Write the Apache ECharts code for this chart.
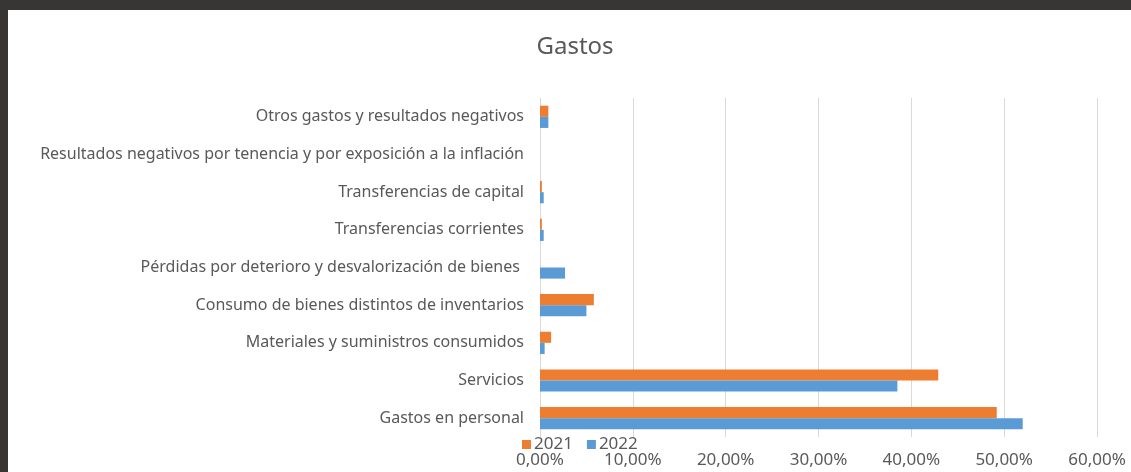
<!DOCTYPE html>
<html>
<head>
<meta charset="utf-8">
<script src="https://cdn.jsdelivr.net/npm/echarts@6/dist/echarts.min.js"></script>
<style>
  html, body { margin: 0; padding: 0; background: #383634; }
  #chart { position: absolute; left: 8px; top: 10px; width: 1123px; height: 462px; background: #fff; }
</style>
</head>
<body>
<div id="chart"></div>
<script>
// categories, bottom to top like the excel chart
const categories = [
  'Gastos en personal',
  'Servicios',
  'Materiales y suministros consumidos',
  'Consumo de bienes distintos de inventarios',
  'Pérdidas por deterioro y desvalorización de bienes ',
  'Transferencias corrientes',
  'Transferencias de capital',
  'Resultados negativos por tenencia y por exposición a la inflación',
  'Otros gastos y resultados negativos'
]
// values in %
const values2021 = [49.2, 42.9, 1.2, 5.8, 0, 0.2, 0.2, 0, 0.9]
const values2022 = [52.0, 38.5, 0.5, 5.0, 2.7, 0.4, 0.4, 0, 0.9]
const seriesNames = ['2021', '2022']

const textColor = '#595959'
const fontFamily = 'Noto Sans'

function pct(v) {
  return v.toFixed(2).replace('.', ',') + '%'
}

const chart = echarts.init(document.getElementById('chart'))
chart.setOption({
  animation: false,
  textStyle: { fontFamily: fontFamily },
  title: {
    text: 'Gastos',
    left: 562,
    textAlign: 'center',
    top: 20,
    textStyle: { color: textColor, fontSize: 24, fontWeight: 'normal', fontFamily: fontFamily }
  },
  legend: {
    data: seriesNames,
    left: 509,
    top: 421,
    itemWidth: 9,
    itemHeight: 9,
    itemGap: 14,
    icon: 'rect',
    textStyle: { color: textColor, fontSize: 17, padding: [0, 0, 0, -2] }
  },
  grid: {
    left: 532,
    right: 34,
    top: 88,
    bottom: 35,
    containLabel: false
  },
  xAxis: {
    type: 'value',
    min: 0,
    max: 60,
    interval: 10,
    axisLine: { show: false },
    axisTick: { show: false },
    splitLine: { lineStyle: { color: '#d9d9d9', width: 1 } },
    axisLabel: {
      color: textColor,
      fontSize: 17,
      margin: 15,
      formatter: pct
    }
  },
  yAxis: {
    type: 'category',
    data: categories,
    axisLine: { show: true, lineStyle: { color: '#d9d9d9' } },
    axisTick: { show: false },
    axisLabel: { color: textColor, fontSize: 16, margin: 16 }
  },
  series: [
    {
      name: seriesNames[0],
      type: 'bar',
      data: values2021,
      barGap: '0%',
      barCategoryGap: '41%',
      itemStyle: { color: '#ed7d31' }
    },
    {
      name: seriesNames[1],
      type: 'bar',
      data: values2022,
      barGap: '0%',
      barCategoryGap: '41%',
      itemStyle: { color: '#5b9bd5' }
    }
  ]
})
</script>
</body>
</html>
